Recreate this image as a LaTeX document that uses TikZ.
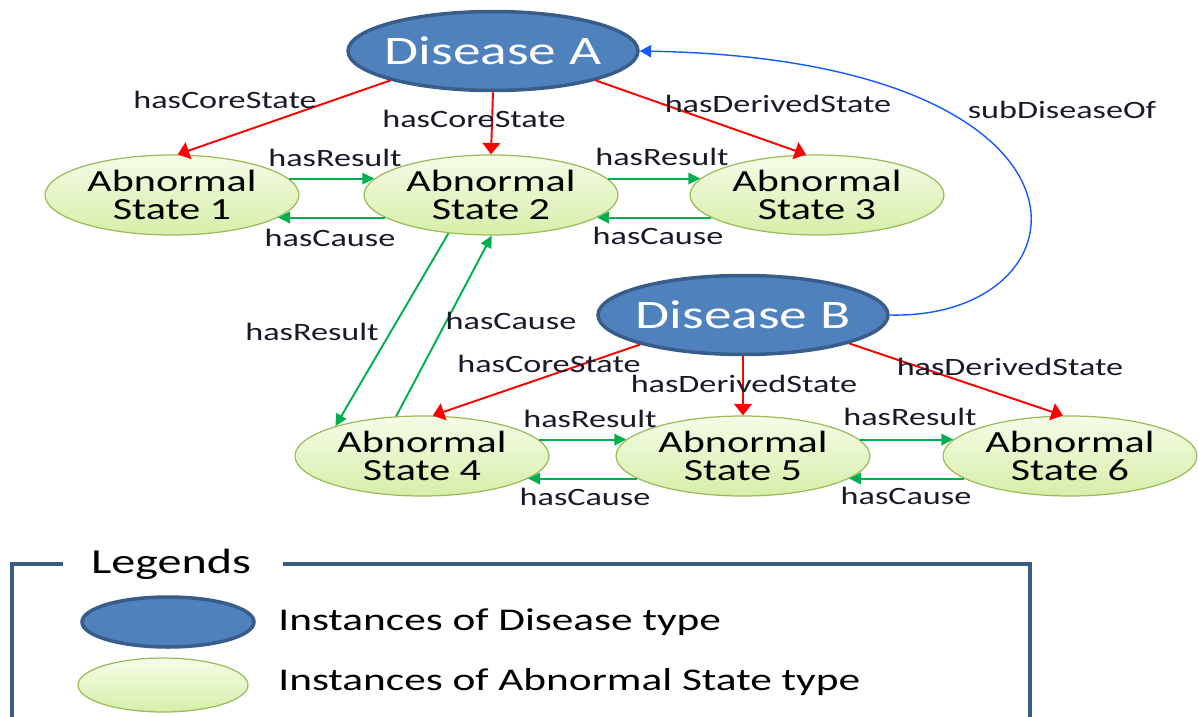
\documentclass[tikz,border=0pt]{standalone}
\usepackage{fontspec}
\setmainfont{Carlito}[FakeStretch=1.37]
\usetikzlibrary{arrows.meta,shapes.geometric}

\definecolor{diseasefill}{RGB}{79,129,189}
\definecolor{diseaseline}{RGB}{56,93,138}
\definecolor{statetop}{RGB}{246,252,232}
\definecolor{statebottom}{RGB}{214,238,168}
\definecolor{stateline}{RGB}{155,187,89}
\definecolor{statered}{RGB}{255,0,0}
\definecolor{linkgreen}{RGB}{0,176,80}
\definecolor{subblue}{RGB}{20,90,255}
\definecolor{framecol}{RGB}{60,90,132}
\definecolor{labelcol}{RGB}{25,25,40}

\begin{document}
\begin{tikzpicture}[x=0.02cm, y=-0.02cm]

    % --- Grundeinstellungen für Styles ---
    \tikzset{
        % Basis-Stil für alle Ellipsen
        component/.style={
            ellipse,
            inner sep=0pt,
            align=center
        },
        % Krankheiten (blau)
        disease/.style={
            component,
            fill=diseasefill,
            draw=diseaseline,
            line width=2pt,
            minimum width=5.8cm,
            minimum height=1.58cm,
            inner xsep=-3mm,
            text=white,
            font=\fontsize{23}{25}\selectfont
        },
        % Abnormale Zustände (hellgrün)
        abnormal/.style={
            component,
            top color=statetop,
            bottom color=statebottom,
            draw=stateline,
            line width=0.7pt,
            minimum width=5.08cm,
            minimum height=1.6cm,
            inner ysep=-2mm,
            font=\fontsize{17.5}{16}\selectfont
        },
        % Stil für freistehende Beschriftungen
        labeltext/.style={
            font=\fontsize{14.2}{16}\selectfont,
            text=labelcol,
            inner sep=0pt
        },
        legendtext/.style={
            font=\fontsize{18}{20}\selectfont,
            inner sep=0pt
        },
        % Stile für Relationen
        hasstate/.style={
            line width=1.1pt,
            color=statered,
            >={Triangle[length=6.5pt, width=10pt]}
        },
        causal/.style={
            line width=1.1pt,
            color=linkgreen,
            >={Triangle[length=6.8pt, width=6.5pt]}
        },
        subof/.style={
            line width=0.8pt,
            color=subblue,
            >={Triangle[length=6.5pt, width=7pt]}
        },
        legendframe/.style={
            line width=2.8pt,
            color=framecol
        }
    }

    \useasboundingbox (0,0) rectangle (1198,717);

    % --- 1. Knoten ---

    % Krankheiten
    \node[disease] (dA) at (493,51) {Disease A};
    \node[disease] (dB) at (743,315) {Disease B};

    % Zustände oben
    \node[abnormal] (s1) at (172,195) {Abnormal\\State 1};
    \node[abnormal] (s2) at (491,195) {Abnormal\\State 2};
    \node[abnormal] (s3) at (817,195) {Abnormal\\State 3};

    % Zustände unten
    \node[abnormal] (s4) at (422,456) {Abnormal\\State 4};
    \node[abnormal] (s5) at (743,456) {Abnormal\\State 5};
    \node[abnormal] (s6) at (1070,456) {Abnormal\\State 6};

    % --- 2. Relationen (Pfeile) ---

    % Disease A -> Zustände
    \draw[hasstate, ->] (dA.196) -- (s1.82);
    \draw[hasstate, ->] (dA.south) -- (s2.north);
    \draw[hasstate, ->] (dA.344) -- (s3.105);
    \node[labeltext] (lA1) at (225,100) {hasCoreState};
    \node[labeltext] (lA2) at (474,119) {hasCoreState};
    \node[labeltext] (lA3) at (778,104) {hasDerivedState};

    % Disease B -> Zustände
    \draw[hasstate, ->] (dB.196) -- (s4.75);
    \draw[hasstate, ->] (dB.south) -- (s5.north);
    \draw[hasstate, ->] (dB.345) -- (s6.100);
    \node[labeltext] (lB1) at (549,364) {hasCoreState};
    \node[labeltext] (lB2) at (744,384) {hasDerivedState};
    \node[labeltext] (lB3) at (1010,367) {hasDerivedState};

    % Ursache/Wirkung oben (Hin und Zurück)
    \draw[causal, ->] (s1.8) -- (s2.172);
    \draw[causal, ->] (s2.192) -- (s1.348);
    \draw[causal, ->] (s2.8) -- (s3.172);
    \draw[causal, ->] (s3.192) -- (s2.348);
    \node[labeltext] (r12) at (335,158) {hasResult};
    \node[labeltext] (c21) at (330,238) {hasCause};
    \node[labeltext] (r23) at (662,157) {hasResult};
    \node[labeltext] (c32) at (658,236) {hasCause};

    % Ursache/Wirkung zwischen State 2 und State 4
    \draw[causal, ->] (s2.222) -- (s4.161);
    \draw[causal, ->] (s4.123) -- (s2.271);
    \node[labeltext] (r24) at (312,332) {hasResult};
    \node[labeltext] (c42) at (511,321) {hasCause};

    % Ursache/Wirkung unten
    \draw[causal, ->] (s4.8) -- (s5.172);
    \draw[causal, ->] (s5.192) -- (s4.348);
    \draw[causal, ->] (s5.8) -- (s6.172);
    \draw[causal, ->] (s6.192) -- (s5.348);
    \node[labeltext] (r45) at (590,419) {hasResult};
    \node[labeltext] (c54) at (585,497) {hasCause};
    \node[labeltext] (r56) at (910,417) {hasResult};
    \node[labeltext] (c65) at (906,496) {hasCause};

    % Disease B ist Unterkrankheit von Disease A
    \draw[subof, ->] (dB.east) .. controls (1095,320) and (1125,60) .. (dA.east);
    \node[labeltext] (lsub) at (1062,110) {subDiseaseOf};

    % --- 3. Legende ---
    \draw[legendframe] (63,564) -| (12,722);
    \draw[legendframe] (283,564) -| (1030,722);
    \node[legendtext, font=\fontsize{20}{22}\selectfont, anchor=base] (legtitle) at (171,573) {Legends};

    \node[disease, minimum width=3.44cm, minimum height=1cm] (legA) at (168,622) {};
    \node[legendtext, anchor=base west] (legAtext) at (278,630) {Instances of Disease type};

    \node[abnormal, minimum width=3.4cm, minimum height=1.08cm] (legS) at (163,685) {};
    \node[legendtext, anchor=base west] (legStext) at (278,690) {Instances of Abnormal State type};

\end{tikzpicture}
\end{document}
